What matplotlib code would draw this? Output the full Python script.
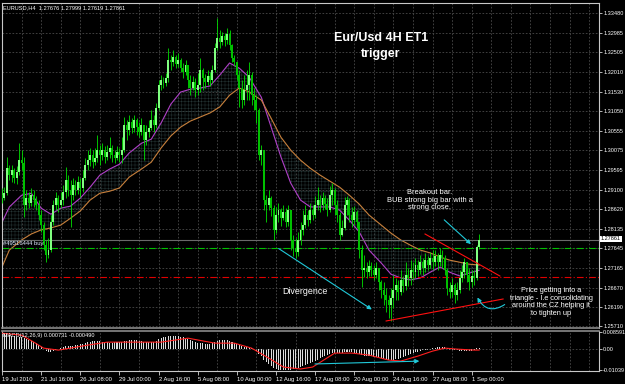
import matplotlib
matplotlib.use('Agg')
import matplotlib.pyplot as plt
import numpy as np

plt.rcParams['font.family'] = ['Liberation Sans', 'DejaVu Sans']
plt.rcParams['hatch.linewidth'] = 0.3

# EURUSD H4, 19 Jul 2010 .. 1 Sep 2010 (one value per bar)
open0 = 1.2896
closes = [1.2889, 1.2901, 1.2963, 1.2946, 1.2958, 1.2939, 1.2953, 1.2983, 1.2976, 1.2872,
          1.2889, 1.2877, 1.2896, 1.2884, 1.2872, 1.2847, 1.2822, 1.2772, 1.2748, 1.2760,
          1.2829, 1.2872, 1.2889, 1.2872, 1.2884, 1.2904, 1.2934, 1.2909, 1.2896, 1.2921,
          1.2909, 1.2929, 1.2914, 1.2939, 1.2971, 1.2983, 1.2996, 1.2978, 1.2988, 1.3008,
          1.2996, 1.3008, 1.2991, 1.3003, 1.3013, 1.2996, 1.2988, 1.3003, 1.2996, 1.3008,
          1.3070, 1.3058, 1.3077, 1.3063, 1.3082, 1.3065, 1.3053, 1.3070, 1.3033, 1.3053,
          1.3063, 1.3082, 1.3070, 1.3112, 1.3169, 1.3182, 1.3174, 1.3187, 1.3231, 1.3226,
          1.3239, 1.3221, 1.3231, 1.3211, 1.3201, 1.3219, 1.3182, 1.3162, 1.3177, 1.3157,
          1.3169, 1.3206, 1.3187, 1.3177, 1.3191, 1.3182, 1.3206, 1.3261, 1.3286, 1.3276,
          1.3291, 1.3281, 1.3296, 1.3268, 1.3236, 1.3226, 1.3194, 1.3162, 1.3132, 1.3157,
          1.3169, 1.3194, 1.3144, 1.3132, 1.3107, 1.2996, 1.3008, 1.2884, 1.2872, 1.2889,
          1.2864, 1.2810, 1.2847, 1.2859, 1.2839, 1.2854, 1.2829, 1.2859, 1.2785, 1.2765,
          1.2755, 1.2785, 1.2810, 1.2822, 1.2847, 1.2834, 1.2859, 1.2847, 1.2872, 1.2884,
          1.2872, 1.2889, 1.2874, 1.2859, 1.2896, 1.2909, 1.2872, 1.2847, 1.2797, 1.2815,
          1.2872, 1.2884, 1.2847, 1.2834, 1.2854, 1.2829, 1.2760, 1.2710, 1.2715, 1.2705,
          1.2720, 1.2710, 1.2698, 1.2715, 1.2681, 1.2661, 1.2648, 1.2636, 1.2624, 1.2641,
          1.2661, 1.2673, 1.2656, 1.2686, 1.2671, 1.2698, 1.2691, 1.2710, 1.2705, 1.2723,
          1.2710, 1.2730, 1.2715, 1.2735, 1.2723, 1.2740, 1.2730, 1.2745, 1.2730, 1.2748,
          1.2740, 1.2710, 1.2666, 1.2656, 1.2673, 1.2648, 1.2661, 1.2691, 1.2705, 1.2730,
          1.2698, 1.2681, 1.2696, 1.2691, 1.27676, 1.27861]
highs = [1.2914, 1.2916, 1.2991, 1.2971, 1.2971, 1.2963, 1.2968, 1.3025, 1.3008, 1.2991,
         1.2909, 1.2904, 1.2914, 1.2909, 1.2894, 1.2884, 1.2859, 1.2829, 1.2785, 1.2790,
         1.2847, 1.2884, 1.2904, 1.2896, 1.2904, 1.2921, 1.2966, 1.2946, 1.2934, 1.2939,
         1.2934, 1.2944, 1.2939, 1.2958, 1.2988, 1.3008, 1.3013, 1.3008, 1.3013, 1.3045,
         1.3020, 1.3025, 1.3018, 1.3020, 1.3040, 1.3020, 1.3008, 1.3018, 1.3013, 1.3040,
         1.3090, 1.3082, 1.3095, 1.3087, 1.3095, 1.3087, 1.3077, 1.3087, 1.3070, 1.3070,
         1.3082, 1.3107, 1.3095, 1.3125, 1.3182, 1.3194, 1.3189, 1.3199, 1.3261, 1.3244,
         1.3256, 1.3244, 1.3249, 1.3236, 1.3224, 1.3231, 1.3219, 1.3194, 1.3191, 1.3187,
         1.3199, 1.3236, 1.3211, 1.3196, 1.3206, 1.3201, 1.3219, 1.3273, 1.3335, 1.3306,
         1.3301, 1.3298, 1.3311, 1.3306, 1.3271, 1.3244, 1.3226, 1.3206, 1.3182, 1.3194,
         1.3206, 1.3226, 1.3201, 1.3162, 1.3144, 1.3112, 1.3020, 1.3008, 1.2896, 1.2909,
         1.2894, 1.2872, 1.2867, 1.2877, 1.2864, 1.2872, 1.2864, 1.2872, 1.2859, 1.2797,
         1.2790, 1.2805, 1.2829, 1.2859, 1.2872, 1.2859, 1.2877, 1.2872, 1.2894, 1.2916,
         1.2896, 1.2904, 1.2896, 1.2889, 1.2919, 1.2926, 1.2914, 1.2884, 1.2854, 1.2834,
         1.2891, 1.2894, 1.2889, 1.2867, 1.2869, 1.2859, 1.2829, 1.2772, 1.2748, 1.2730,
         1.2735, 1.2730, 1.2723, 1.2730, 1.2715, 1.2686, 1.2681, 1.2666, 1.2648, 1.2666,
         1.2698, 1.2691, 1.2686, 1.2710, 1.2696, 1.2730, 1.2715, 1.2735, 1.2730, 1.2740,
         1.2735, 1.2748, 1.2740, 1.2753, 1.2745, 1.2755, 1.2760, 1.2760, 1.2753, 1.2765,
         1.2760, 1.2748, 1.2715, 1.2681, 1.2691, 1.2678, 1.2681, 1.2710, 1.2723, 1.2740,
         1.2730, 1.2715, 1.2710, 1.2710, 1.2772, 1.27999]
lows = [1.2877, 1.2884, 1.2896, 1.2934, 1.2929, 1.2926, 1.2924, 1.2946, 1.2958, 1.2842,
        1.2859, 1.2864, 1.2869, 1.2867, 1.2859, 1.2834, 1.2805, 1.2760, 1.2730, 1.2740,
        1.2755, 1.2822, 1.2859, 1.2854, 1.2864, 1.2872, 1.2889, 1.2894, 1.2817, 1.2884,
        1.2896, 1.2899, 1.2891, 1.2904, 1.2934, 1.2958, 1.2968, 1.2963, 1.2971, 1.2978,
        1.2971, 1.2983, 1.2976, 1.2983, 1.2988, 1.2978, 1.2976, 1.2983, 1.2978, 1.2976,
        1.3003, 1.3033, 1.3045, 1.3050, 1.3053, 1.3045, 1.3040, 1.3045, 1.2983, 1.3020,
        1.3040, 1.3058, 1.3053, 1.3063, 1.3107, 1.3157, 1.3162, 1.3167, 1.3177, 1.3206,
        1.3216, 1.3211, 1.3214, 1.3201, 1.3187, 1.3194, 1.3162, 1.3144, 1.3157, 1.3139,
        1.3144, 1.3152, 1.3157, 1.3162, 1.3169, 1.3167, 1.3174, 1.3201, 1.3256, 1.3261,
        1.3268, 1.3266, 1.3271, 1.3256, 1.3226, 1.3216, 1.3182, 1.3115, 1.3112, 1.3120,
        1.3132, 1.3132, 1.3120, 1.3107, 1.3075, 1.2983, 1.2971, 1.2859, 1.2829, 1.2859,
        1.2844, 1.2785, 1.2802, 1.2829, 1.2820, 1.2834, 1.2817, 1.2820, 1.2760, 1.2745,
        1.2740, 1.2745, 1.2772, 1.2797, 1.2815, 1.2820, 1.2827, 1.2834, 1.2839, 1.2859,
        1.2854, 1.2859, 1.2862, 1.2844, 1.2854, 1.2872, 1.2847, 1.2829, 1.2785, 1.2795,
        1.2810, 1.2847, 1.2829, 1.2817, 1.2822, 1.2815, 1.2740, 1.2668, 1.2693, 1.2691,
        1.2696, 1.2696, 1.2686, 1.2691, 1.2661, 1.2641, 1.2624, 1.2606, 1.2591, 1.2584,
        1.2616, 1.2636, 1.2636, 1.2648, 1.2656, 1.2661, 1.2671, 1.2673, 1.2686, 1.2691,
        1.2696, 1.2700, 1.2698, 1.2705, 1.2710, 1.2715, 1.2710, 1.2720, 1.2710, 1.2720,
        1.2715, 1.2698, 1.2648, 1.2641, 1.2643, 1.2629, 1.2636, 1.2653, 1.2681, 1.2691,
        1.2681, 1.2661, 1.2668, 1.2673, 1.2686, 1.27619]

ma_idx = [0, 3, 8, 12, 16, 20, 24, 28, 32, 36, 40, 44, 48, 52, 57, 61, 65, 69, 73, 77,
          81, 85, 89, 93, 97, 101, 106, 110, 114, 118, 122, 126, 130, 134, 138, 142, 146,
          150, 155, 159, 163, 167, 171, 175, 179, 183, 187, 191, 195]
ma_fast = [1.2829, 1.2867, 1.2896, 1.2901, 1.2864, 1.2849, 1.2864, 1.2869, 1.2889, 1.2916,
           1.2946, 1.2961, 1.2973, 1.3001, 1.3025, 1.3035, 1.3075, 1.3122, 1.3152, 1.3159,
           1.3162, 1.3167, 1.3194, 1.3224, 1.3211, 1.3189, 1.3139, 1.3065, 1.2991, 1.2926,
           1.2884, 1.2867, 1.2867, 1.2867, 1.2859, 1.2834, 1.2805, 1.2760, 1.2728, 1.2700,
           1.2691, 1.2686, 1.2691, 1.2705, 1.2718, 1.2705, 1.2696, 1.2703, 1.2710]
ma_slow = [1.2718, 1.2760, 1.2785, 1.2800, 1.2810, 1.2815, 1.2822, 1.2839, 1.2857, 1.2884,
           1.2901, 1.2906, 1.2914, 1.2941, 1.2961, 1.2978, 1.3013, 1.3043, 1.3065, 1.3080,
           1.3090, 1.3100, 1.3115, 1.3144, 1.3162, 1.3152, 1.3132, 1.3087, 1.3040, 1.3008,
           1.2983, 1.2963, 1.2946, 1.2931, 1.2916, 1.2896, 1.2874, 1.2847, 1.2822, 1.2802,
           1.2785, 1.2772, 1.2760, 1.2753, 1.2743, 1.2735, 1.2730, 1.2725, 1.2723]

# MACD(12,26,9)
macd_hist = [0.0086, 0.0080, 0.0075, 0.0070, 0.0065, 0.0065, 0.0060, 0.0060, 0.0060, 0.0055,
             0.0050, 0.0045, 0.0040, 0.0035, 0.0030, 0.0020, 0.0010, 0.0002, -0.0010, -0.0015,
             -0.0015, -0.0010, -0.0005, -0.0001, 0.0005, 0.0010, 0.0015, 0.0015, 0.0015, 0.0015,
             0.0020, 0.0020, 0.0025, 0.0025, 0.0030, 0.0035, 0.0035, 0.0040, 0.0040, 0.0040,
             0.0040, 0.0035, 0.0035, 0.0035, 0.0030, 0.0030, 0.0035, 0.0035, 0.0035, 0.0035,
             0.0040, 0.0040, 0.0045, 0.0045, 0.0045, 0.0045, 0.0040, 0.0040, 0.0035, 0.0035,
             0.0035, 0.0035, 0.0035, 0.0040, 0.0050, 0.0055, 0.0060, 0.0060, 0.0065, 0.0065,
             0.0065, 0.0065, 0.0065, 0.0060, 0.0060, 0.0055, 0.0050, 0.0045, 0.0040, 0.0035,
             0.0030, 0.0030, 0.0030, 0.0025, 0.0025, 0.0025, 0.0030, 0.0035, 0.0040, 0.0045,
             0.0045, 0.0045, 0.0045, 0.0040, 0.0035, 0.0030, 0.0025, 0.0020, 0.0015, 0.0010,
             0.0010, 0.0010, 0.0005, -0.0001, -0.0010, -0.0025, -0.0035, -0.0055, -0.0065, -0.0075,
             -0.0085, -0.0095, -0.0100, -0.0104, -0.0104, -0.0104, -0.0104, -0.0104, -0.0104, -0.0100,
             -0.0100, -0.0095, -0.0090, -0.0085, -0.0080, -0.0075, -0.0070, -0.0065, -0.0060, -0.0055,
             -0.0045, -0.0040, -0.0035, -0.0030, -0.0025, -0.0020, -0.0020, -0.0020, -0.0020, -0.0020,
             -0.0015, -0.0015, -0.0015, -0.0015, -0.0020, -0.0020, -0.0025, -0.0030, -0.0035, -0.0035,
             -0.0035, -0.0035, -0.0040, -0.0040, -0.0040, -0.0045, -0.0050, -0.0055, -0.0055, -0.0055,
             -0.0055, -0.0050, -0.0050, -0.0045, -0.0040, -0.0035, -0.0030, -0.0025, -0.0020, -0.0015,
             -0.0015, -0.0010, -0.0005, -0.0005, -0.0002, -0.0002, 0.0005, 0.0005, 0.0010, 0.0010,
             0.0010, 0.0010, 0.0005, -0.0002, -0.0005, -0.0005, -0.0005, -0.0010, -0.0010, -0.0010,
             -0.0010, -0.0010, -0.0010, -0.0005, 0.0005, 0.00073]
sig_idx = [0, 8, 13, 17, 23, 28, 35, 43, 54, 65, 76, 87, 95, 102, 109, 115, 122, 127, 136,
           143, 150, 158, 163, 170, 176, 181, 186, 193, 195]
macd_sig = [0.0080, 0.0070, 0.0035, 0.0005, -0.0005, 0.0005, 0.0020, 0.0035, 0.0035, 0.0035,
            0.0055, 0.0030, 0.0030, 0.0005, -0.0045, -0.0090, -0.0100, -0.0090, -0.0020,
            -0.0020, -0.0030, -0.0055, -0.0060, -0.0035, -0.0010, 0.0005, 0.0000, -0.0005, -0.00049]

price_ticks = [1.33480, 1.32985, 1.32505, 1.32010, 1.31530, 1.31050, 1.30555, 1.30075,
               1.29595, 1.29100, 1.28620, 1.28135, 1.27645, 1.27165, 1.26670, 1.26190, 1.25710]
time_idx = [0, 16, 32, 48, 64, 80, 96, 112, 128, 144, 160, 176, 192]
time_labels = ['19 Jul 2010', '21 Jul 16:00', '26 Jul 08:00', '29 Jul 00:00', '2 Aug 16:00',
               '5 Aug 08:00', '10 Aug 00:00', '12 Aug 16:00', '17 Aug 08:00', '20 Aug 00:00',
               '24 Aug 16:00', '27 Aug 08:00', '1 Sep 00:00']

bid, buy_price, stop_price = 1.27861, 1.27645, 1.2693

c = np.array(closes)
h = np.array(highs)
l = np.array(lows)
o = np.concatenate([[open0], c[:-1]])
o[-1] = 1.27676
idx = np.arange(len(c))

fig = plt.figure(figsize=(6.25, 3.84), dpi=100, facecolor='black')
ax = fig.add_axes([2/625, 1-328/384, 597/625, 325/384], facecolor='black')
ax2 = fig.add_axes([2/625, 1-371/384, 597/625, 40/384], facecolor='black')

grid_kw = dict(color='#4a4a4a', linestyle=(0, (2, 2)), linewidth=0.6)

# ribbon between the two averages
ax.fill_between(ma_idx, ma_fast, ma_slow, facecolor='none', edgecolor='#2a3c3c',
                hatch='+++++', linewidth=0, zorder=1)
ax.plot(ma_idx, ma_fast, color='#b040c8', linewidth=0.8, zorder=2)
ax.plot(ma_idx, ma_slow, color='#c8803c', linewidth=0.8, zorder=2)

# candles
up = c >= o
ax.vlines(idx, np.minimum(l, np.minimum(o, c)), np.maximum(h, np.maximum(o, c)),
          color='#00e000', linewidth=0.6, zorder=3)
body = np.maximum(np.abs(c - o), 0.00006)
ax.bar(idx, body, bottom=np.minimum(o, c), width=0.8,
       color=np.where(up, '#80ff80', '#00c000'), linewidth=0, zorder=4)

# order lines
ax.axhline(bid, color='#6a6a6a', linewidth=0.8, zorder=2)
ax.axhline(buy_price, color='#00c000', linewidth=0.8, linestyle=(0, (6, 2, 1, 2)), zorder=2)
ax.axhline(stop_price, color='#e00000', linewidth=0.8, linestyle=(0, (6, 2, 1, 2)), zorder=2)

# triangle trend lines
ax.plot([172.9, 203.5], [1.27999, 1.26957], color='#ff1010', linewidth=0.8, zorder=5)
ax.plot([157.0, 204.8], [1.25842, 1.26387], color='#ff1010', linewidth=0.8, zorder=5)

cyan = '#20c8d8'
arr = dict(arrowstyle='-|>', color=cyan, linewidth=0.8, mutation_scale=6)
ax.annotate('', xy=(152.1, 1.26090), xytext=(112.1, 1.27677), arrowprops=arr, zorder=6)
ax.annotate('', xy=(192.5, 1.27702), xytext=(179.9, 1.28396), arrowprops=arr, zorder=6)
ax.annotate('', xy=(193.8, 1.26486), xytext=(206.4, 1.26288),
            arrowprops=dict(arr, connectionstyle='arc3,rad=-0.6'), zorder=6)

ax.set_xlim(0.2, 244.0)
ax.set_ylim(1.25668, 1.33728)
ax.yaxis.tick_right()
ax.set_yticks(price_ticks)
ax.set_yticklabels(['%.5f' % p for p in price_ticks])
ax.set_xticks(np.arange(0, 245, 8))
ax.tick_params(axis='x', length=0, labelbottom=False)
ax.tick_params(axis='y', colors='white', labelsize=4, length=2, pad=1, width=0.5)
ax.grid(True, **grid_kw)
ax.set_axisbelow(True)

# MACD window
ax2.bar(idx, macd_hist, width=0.42, color='#dcdcdc', linewidth=0, zorder=2)
ax2.plot(sig_idx, macd_sig, color='#ff2020', linewidth=0.8, zorder=3)
ax2.axhline(0, **grid_kw)
ax2.annotate('', xy=(171.7, -0.0060), xytext=(126.8, -0.0075), arrowprops=arr, zorder=6)
ax2.set_xlim(0.2, 244.0)
ax2.set_ylim(-0.0110, 0.0091)
ax2.yaxis.tick_right()
ax2.set_yticks([0.008591, 0.0, -0.01039])
ax2.set_yticklabels(['0.008591', '0.00', '-0.01039'])
ax2.set_xticks(time_idx)
ax2.set_xticklabels(time_labels, ha='left')
ax2.set_xticks(np.arange(0, 245, 8), minor=True)
ax2.tick_params(axis='y', colors='white', labelsize=4, length=2, pad=1, width=0.5)
ax2.tick_params(axis='x', which='major', colors='white', labelsize=4.2, length=3, pad=1, width=0.5)
ax2.tick_params(axis='x', which='minor', length=0)
ax2.xaxis.grid(True, which='minor', **grid_kw)

for a in (ax, ax2):
    for s in a.spines.values():
        s.set_color('#c8c8c8')
        s.set_linewidth(0.8)
ax.spines['bottom'].set_color('#8a8a8a')
ax.spines['bottom'].set_linewidth(1.2)
ax2.spines['top'].set_color('#8a8a8a')
ax2.spines['top'].set_linewidth(1.2)

# texts
fig.text(3/625, 1-8/384, 'EURUSD,H4  1.27676 1.27999 1.27619 1.27861', color='white',
         fontsize=4.1, va='center')
fig.text(381/625, 1-38/384, 'Eur/Usd 4H ET1', color='white', fontsize=9, weight='bold',
         ha='center', va='center')
fig.text(381/625, 1-54/384, 'trigger', color='white', fontsize=9, weight='bold',
         ha='center', va='center')
fig.text(430/625, 1-200/384, 'Breakout bar.\nBUB strong big bar with a\nstrong close.',
         color='white', fontsize=5.4, ha='center', va='center', linespacing=1.15)
fig.text(551/625, 1-302/384,
         'Price getting into a\ntriangle - I.e consolidating\naround the CZ helping it\nto tighten up',
         color='white', fontsize=5.3, ha='center', va='center', linespacing=1.1)
fig.text(305/625, 1-292/384, 'Divergence', color='white', fontsize=6.4, ha='center', va='center')
fig.text(3/625, 1-243/384, '#49516444 buy', color='#e0e8ff', fontsize=4.2, va='center')
fig.text(3/625, 1-335/384, 'MACD(12,26,9) 0.000731 -0.000490', color='white', fontsize=4.1,
         va='center')
fig.text(601/625, 1-239/384, '1.27861', color='black', fontsize=4, va='center',
         bbox=dict(facecolor='white', edgecolor='none', pad=0.6))

fig.savefig('out.png', dpi=100, facecolor='black')
